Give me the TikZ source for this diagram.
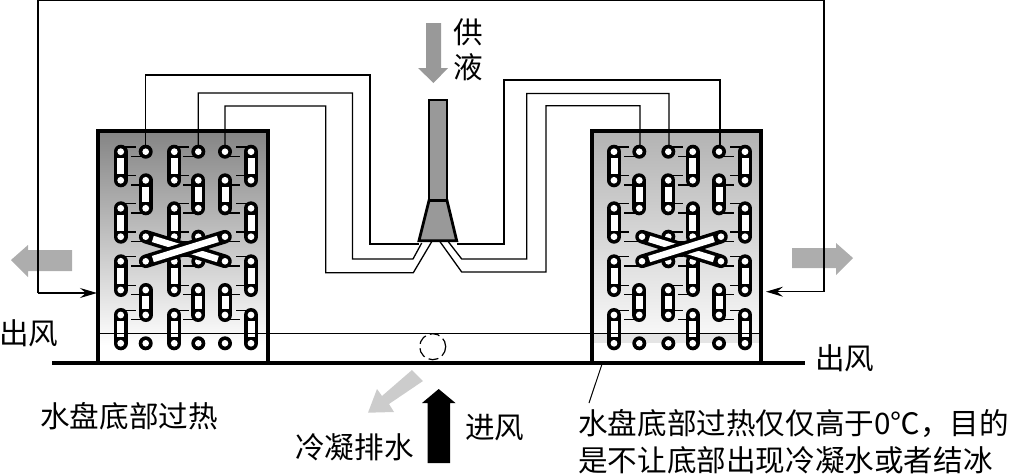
\documentclass[tikz,border=0pt]{standalone}
\usepackage{fontspec}
\setmainfont{Liberation Serif}
\newfontfamily\cjk{Noto Sans CJK SC}
\usetikzlibrary{arrows.meta,calc}
\tikzset{
  wire/.style={line width=1.3pt,black},
  barbed/.style={-{Stealth[length=17pt,width=10pt,inset=6pt]}},
  label/.style={font=\cjk\fontsize{29.6}{29.6}\selectfont,inner sep=0pt,anchor=west},
  casing/.style={black,line width=3.1pt},
  fin/.style={line width=1.2pt,black},
}
\newcommand{\tubeone}[2]{%
  \fill[black] (#1,#2) circle (7);
  \fill[white] (#1,#2) circle (3.3);}
\newcommand{\tubetwo}[3]{%
  \draw[black,line width=14pt,line cap=round] (#1,#2) -- (#1,#3);
  \fill[white] (#1,#2) circle (3.4);
  \fill[white] (#1,#3) circle (3.4);
  \draw[white,line width=7pt] (#1,#2+6.2) -- (#1,#3-6.2);}
\newcommand{\crosstube}[4]{%
  \draw[black,line width=13.5pt,line cap=round] (#1,#2) -- (#3,#4);
  \fill[white] (#1,#2) circle (3.3);
  \fill[white] (#3,#4) circle (3.3);
  \draw[white,line width=6.5pt] ($(#1,#2)!7.5pt!(#3,#4)$) -- ($(#3,#4)!7.5pt!(#1,#2)$);}
\newcommand{\fins}[6]{%
  \foreach \cc/\dd in {#1/1,#3/1,#6/-1}{
    \foreach \yy in {151.7,180.3,208.3,236.7,261.3,290,315}{
      \draw[fin] (\cc,\yy-4.7) -- ++(\dd*15,0);}}
  \foreach \cc/\dd in {#2/-1,#4/-1,#5/1}{
    \foreach \yy in {151.7,180.3,208.3,236.7,261.3,290,315}{
      \draw[fin] (\cc,\yy+4.7) -- ++(\dd*15,0);}}}
\newcommand{\pairedcol}[1]{%
  \tubetwo{#1}{151.7}{180.3}\tubetwo{#1}{208.3}{236.7}
  \tubetwo{#1}{261.3}{290}\tubetwo{#1}{315}{343.3}}
\newcommand{\singlecol}[1]{%
  \tubeone{#1}{151.7}\tubetwo{#1}{180.3}{208.3}
  \tubeone{#1}{236.7}\tubeone{#1}{261.3}
  \tubetwo{#1}{290}{315}\tubeone{#1}{343.3}}
\newcommand{\crosscol}[1]{%
  \tubeone{#1}{151.7}\tubetwo{#1}{180.3}{208.3}
  \tubetwo{#1}{290}{315}\tubeone{#1}{343.3}}
\begin{document}
\begin{tikzpicture}[x=1pt,y=-1pt]
\useasboundingbox (0,0) rectangle (1009,474);
% casings
\shade[top color=black!48,middle color=black!17,bottom color=white] (98,131) rectangle (268,345);
\shade[top color=black!30,middle color=black!3,bottom color=black!3] (592,131) rectangle (761,333);
\fill[black!10] (592,333) rectangle (761,343);
% flows
\fill[black!40] (426,23) -- (441,23) -- (441,68) -- (448,68) -- (433.5,83) -- (418,68) -- (426,68) -- cycle;
\fill[black!32] (72,250) -- (28,250) -- (28,245) -- (11,260) -- (28,277) -- (28,271) -- (72,271) -- cycle;
\fill[black!32] (792,248) -- (836,248) -- (836,243) -- (853,258) -- (836,275) -- (836,268) -- (792,268) -- cycle;
\fill[black!20] (412,370) -- (423,381) -- (389,404) -- (394,412) -- (368,412.7) -- (377,389) -- (382,396) -- cycle;
\fill[black] (427.5,463) -- (450,463) -- (450,403) -- (455.5,403) -- (438.7,389) -- (422,403) -- (427.5,403) -- cycle;
% outer wire
\coordinate (wl) at (38,293);
\coordinate (wr) at (824,291.7);
\coordinate (cl) at (97,293);
\coordinate (cr) at (766,291.7);
\draw[wire,barbed] (wr) -- (cr);
\draw[wire,barbed] (wl) -- (cl);
\draw[wire] (wl) -- (38,0.5) -- (824,0.5) -- (wr);
% pipes
\coordinate (n1) at (419,244);
\coordinate (n2) at (421.7,243);
\coordinate (n3) at (431.7,241.7);
\coordinate (n4) at (456.7,244);
\coordinate (n5) at (448.3,241.7);
\coordinate (n6) at (440,241.7);
\draw[wire] (145.7,150) -- (145.7,75) -- (370,75) -- (370,244) -- (n1);
\draw[wire] (198.3,150) -- (198.3,93) -- (352.5,93) -- (352.5,259) -- (413,259) -- (n2);
\draw[wire] (225,150) -- (225,106) -- (325.7,106) -- (325.7,272.7) -- (413.3,272.7) -- (n3);
\draw[wire] (720,150) -- (720,80) -- (504,80) -- (504,244) -- (n4);
\draw[wire] (669,150) -- (669,93.5) -- (526.7,93.5) -- (526.7,259) -- (461.7,259) -- (n5);
\draw[wire] (640,150) -- (640,105.7) -- (546,105.7) -- (546,272) -- (461.7,272) -- (n6);
% left coil
\fins{120.7}{145.7}{174.3}{198.3}{225}{251}
\pairedcol{120.7}\crosscol{145.7}\pairedcol{174.3}\singlecol{198.3}\crosscol{225}\pairedcol{251}
\crosstube{145.7}{236.7}{225}{261.3}
\crosstube{145.7}{261.3}{225}{236.7}
% right coil
\fins{614}{639.3}{668.3}{692.7}{719}{745}
\pairedcol{614}\crosscol{639.3}\singlecol{668.3}\pairedcol{692.7}\crosscol{719}\pairedcol{745}
\crosstube{642}{236.7}{721}{261.3}
\crosstube{642}{261.3}{721}{236.7}
% casing outlines
\draw[casing] (98,362) -- (98,131) -- (268,131) -- (268,362);
\draw[casing] (592,362) -- (592,131) -- (761,131) -- (761,362);
\draw[wire,line width=.9pt] (98,333) -- (761,333);
\draw[black,line width=4.2pt] (52,362.7) -- (805,362.7);
% distributor
\draw[black,fill=black!40,line width=2.8pt,line join=miter] (429,100) rectangle (447,200);
\draw[black,fill=black!40,line width=2.8pt,line join=miter] (429,200.5) -- (447,200.5) -- (456.7,240.7) -- (419,240.7) -- cycle;
% dashed circle
\draw[black,line width=1.2pt,dash pattern=on 10pt off 4.5pt] (432.7,346.7) circle (13);
% leader
\coordinate (la) at (601.7,365);
\coordinate (lb) at (589,403);
\draw[line width=1pt] (la) -- (lb);
% labels
\node[label,anchor=center] (t1) at (468,32) {供};
\node[label,anchor=center] (t2) at (468,67) {液};
\node[label] (t3) at (-1,333) {出风};
\node[label] (t4) at (815,358) {出风};
\node[label] (t5) at (40,416) {水盘底部过热};
\node[label] (t6) at (295,447) {冷凝排水};
\node[label] (t7) at (465,428) {进风};
\node[label] (t8) at (578,423) {水盘底部过热仅仅高于0℃，目的};
\node[label] (t9) at (578,460) {是不让底部出现冷凝水或者结冰};
\end{tikzpicture}
\end{document}
